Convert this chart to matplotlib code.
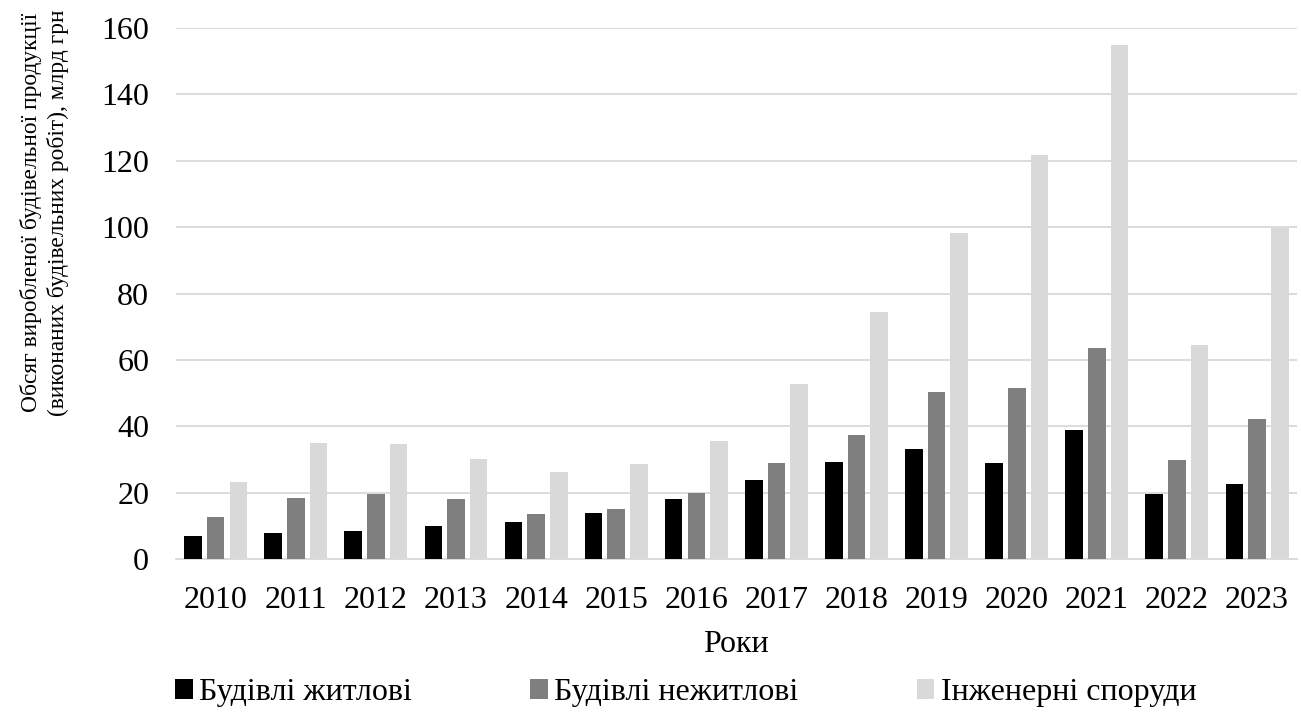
import numpy as np
import matplotlib
matplotlib.use("Agg")
import matplotlib.pyplot as plt
from matplotlib.patches import Patch

years = ["2010", "2011", "2012", "2013", "2014", "2015", "2016",
         "2017", "2018", "2019", "2020", "2021", "2022", "2023"]
residential = [6.9, 8.0, 8.4, 9.9, 11.2, 13.8, 18.0, 23.7, 29.3, 33.2, 29.0, 38.9, 19.7, 22.6]
non_residential = [12.7, 18.5, 19.5, 18.2, 13.5, 15.0, 20.0, 29.0, 37.4, 50.4, 51.5, 63.5, 29.9, 42.2]
engineering = [23.2, 34.9, 34.8, 30.3, 26.2, 28.6, 35.6, 52.8, 74.4, 98.2, 121.6, 154.9, 64.4, 99.8]

series_names = ["Будівлі житлові", "Будівлі нежитлові", "Інженерні споруди"]
colors = ["#000000", "#7f7f7f", "#d9d9d9"]

plt.rcParams["font.family"] = ["Liberation Serif", "DejaVu Serif"]
FS = 23

fig = plt.figure(figsize=(13.01, 7.15), dpi=100)
ax = fig.add_axes([0.135, 0.218, 0.862, 0.743])

x = np.arange(len(years))
w, step = 0.22, 0.283
for i, (vals, c) in enumerate(zip([residential, non_residential, engineering], colors)):
    ax.bar(x + (i - 1) * step, vals, width=w, color=c, zorder=3)

ax.set_xlim(-0.5, len(years) - 0.5)
ax.set_ylim(0, 160)
ax.set_yticks(np.arange(0, 161, 20))
ax.set_xticks(x)
ax.set_xticklabels(years)
ax.tick_params(axis="both", length=0, labelsize=FS)
ax.tick_params(axis="x", pad=19)
ax.tick_params(axis="y", pad=19)

ax.grid(axis="y", color="#d9d9d9", lw=1.3, zorder=0)
for s in ["top", "right", "left"]:
    ax.spines[s].set_visible(False)
ax.spines["bottom"].set_color("#d9d9d9")
ax.spines["bottom"].set_linewidth(1.3)

ax.set_xlabel("Роки", fontsize=FS, labelpad=11)
# the axis title sits above the plot centre, as two stacked lines
fig.text(0.034, 0.703,
         "Обсяг виробленої будівельної продукції\n(виконаних будівельних робіт), млрд грн",
         rotation=90, ha="center", va="center", fontsize=16.8, linespacing=1.3)

handles = [Patch(facecolor=c, edgecolor="none") for c in colors]
fig.legend(handles, series_names, loc="center", bbox_to_anchor=(0.527, 0.031),
           ncol=3, frameon=False, fontsize=FS, handlelength=0.55, handleheight=0.55,
           handletextpad=0.2, columnspacing=3.7, borderaxespad=0)

fig.savefig("out.png", dpi=100)
